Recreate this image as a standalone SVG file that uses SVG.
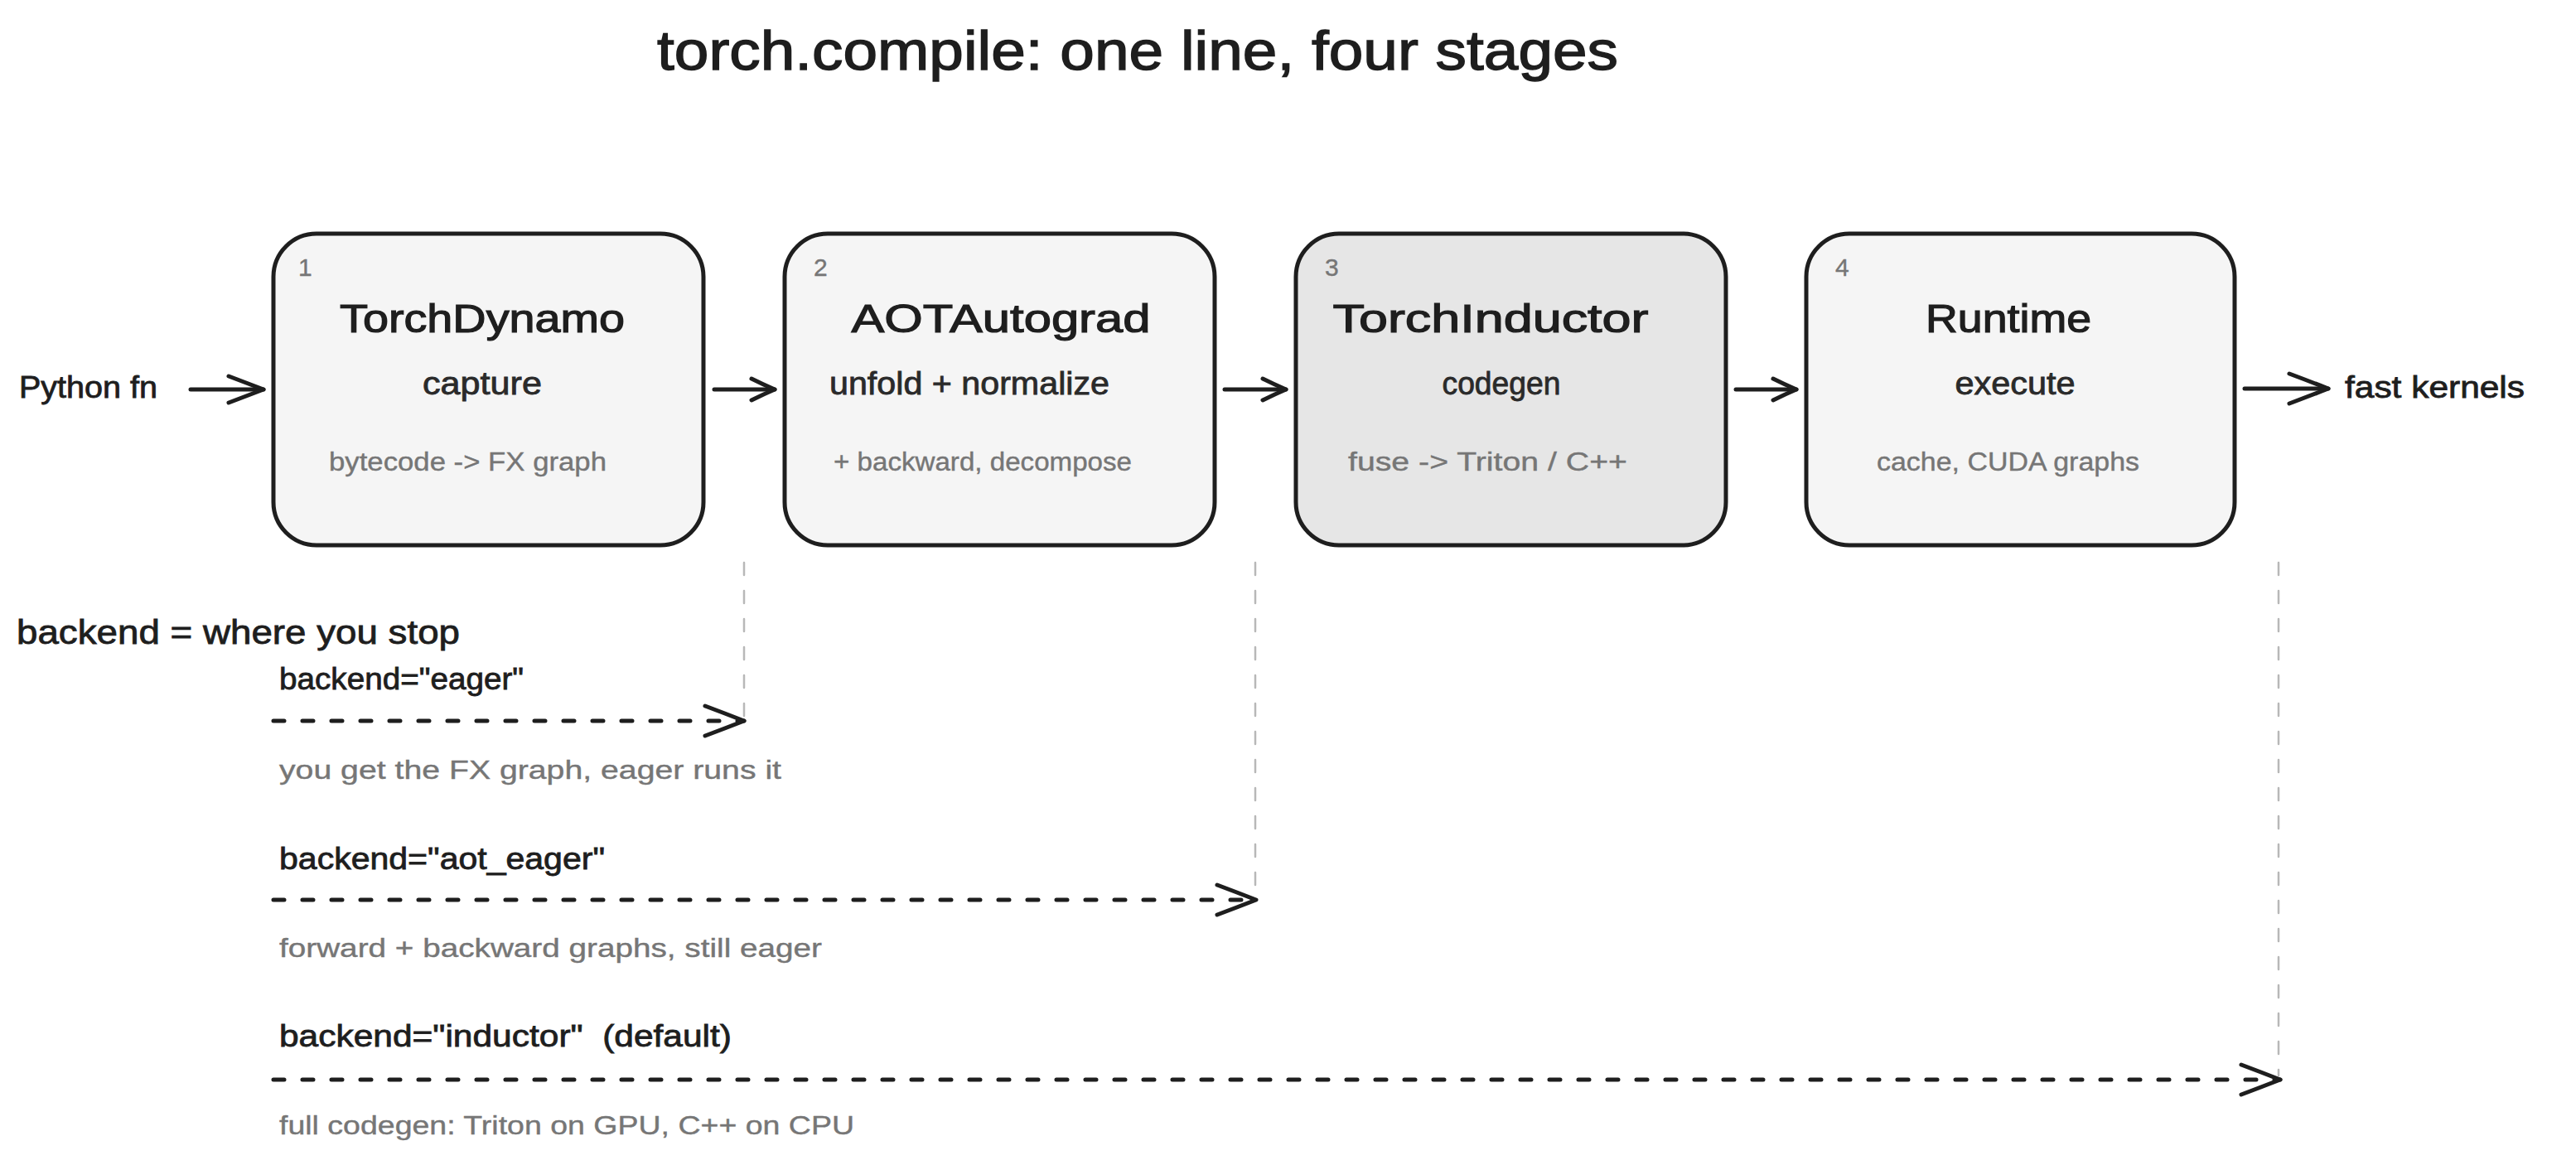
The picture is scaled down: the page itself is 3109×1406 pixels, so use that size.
<svg xmlns="http://www.w3.org/2000/svg" width="3109" height="1406" viewBox="0 0 3109 1406">
<style>
.bg{fill:#ffffff}
.box{fill:#f5f5f5;stroke:#1e1e1e;stroke-width:5}
.dark{fill:#e6e6e6}
.t{font-family:"Liberation Sans",Arial,sans-serif;fill:#1e1e1e;stroke:#1e1e1e;stroke-width:0.8}
.title{font-size:66px;stroke-width:1.4}
.h{font-size:48px;text-anchor:middle;stroke-width:1.2}
.sub{font-size:38px;text-anchor:middle;fill:#2a2a2a;stroke:#2a2a2a}
.det{font-size:31px;fill:#767676;stroke:#767676;stroke-width:0.4}
.num{font-size:30px;fill:#767676;stroke:#767676;stroke-width:0.4}
.lbl{font-size:36px}
.edge{stroke:#1e1e1e;stroke-width:5;fill:none;stroke-linecap:round}
.dash{stroke-dasharray:13 22}
.guide{stroke:#b8b8b8;stroke-width:2.5;stroke-dasharray:15 19;stroke-linecap:round;fill:none}
</style>
<defs>
<marker id="ah" markerUnits="userSpaceOnUse" viewBox="0 0 54 42" refX="50" refY="21" markerWidth="54" markerHeight="42" orient="auto" overflow="visible">
<path d="M3,3 Q27,12 50,21 Q27,30 3,39" fill="none" stroke="#1e1e1e" stroke-width="5" stroke-linecap="round" stroke-linejoin="round" stroke-dasharray="none"/>
</marker>
<marker id="ahm" markerUnits="userSpaceOnUse" viewBox="0 0 48 36" refX="45" refY="18" markerWidth="48" markerHeight="36" orient="auto" overflow="visible">
<path d="M3,2 Q24,10 45,18 Q24,26 3,34" fill="none" stroke="#1e1e1e" stroke-width="5" stroke-linecap="round" stroke-linejoin="round" stroke-dasharray="none"/>
</marker>
<marker id="ahs" markerUnits="userSpaceOnUse" viewBox="0 0 34 32" refX="31" refY="16" markerWidth="34" markerHeight="32" orient="auto" overflow="visible">
<path d="M3,3 Q17,10 31,16 Q17,22 3,29" fill="none" stroke="#1e1e1e" stroke-width="5" stroke-linecap="round" stroke-linejoin="round" stroke-dasharray="none"/>
</marker>
</defs>
<rect class="bg" x="0" y="0" width="3109" height="1406"/>

<text class="t title" x="793" y="84" textLength="1160" lengthAdjust="spacingAndGlyphs">torch.compile: one line, four stages</text>

<g id="node-dynamo">
<rect class="box" x="330" y="282" width="519" height="376" rx="52"/>
<text class="t num" x="360" y="333">1</text>
<text class="t h" x="582" y="401" textLength="344" lengthAdjust="spacingAndGlyphs">TorchDynamo</text>
<text class="t sub" x="582" y="476" textLength="144" lengthAdjust="spacingAndGlyphs">capture</text>
<text class="t det" x="397" y="568" textLength="335" lengthAdjust="spacingAndGlyphs">bytecode -&gt; FX graph</text>
</g>

<g id="node-aotautograd">
<rect class="box" x="947" y="282" width="519" height="376" rx="52"/>
<text class="t num" x="982" y="333">2</text>
<text class="t h" x="1208" y="401" textLength="361" lengthAdjust="spacingAndGlyphs">AOTAutograd</text>
<text class="t sub" x="1170" y="476" textLength="338" lengthAdjust="spacingAndGlyphs">unfold + normalize</text>
<text class="t det" x="1006" y="568" textLength="360" lengthAdjust="spacingAndGlyphs">+ backward, decompose</text>
</g>

<g id="node-inductor">
<rect class="box dark" x="1564" y="282" width="519" height="376" rx="52"/>
<text class="t num" x="1599" y="333">3</text>
<text class="t h" x="1799" y="401" textLength="381" lengthAdjust="spacingAndGlyphs">TorchInductor</text>
<text class="t sub" x="1812" y="476" textLength="143" lengthAdjust="spacingAndGlyphs">codegen</text>
<text class="t det" x="1627" y="568" textLength="337" lengthAdjust="spacingAndGlyphs">fuse -&gt; Triton / C++</text>
</g>

<g id="node-runtime">
<rect class="box" x="2180" y="282" width="517" height="376" rx="52"/>
<text class="t num" x="2215" y="333">4</text>
<text class="t h" x="2424" y="401" textLength="200" lengthAdjust="spacingAndGlyphs">Runtime</text>
<text class="t sub" x="2432" y="476" textLength="145" lengthAdjust="spacingAndGlyphs">execute</text>
<text class="t det" x="2265" y="568" textLength="317" lengthAdjust="spacingAndGlyphs">cache, CUDA graphs</text>
</g>

<g id="labels">
<text class="t lbl" x="23" y="480" textLength="167" lengthAdjust="spacingAndGlyphs">Python fn</text>
<text class="t lbl" x="2830" y="480" textLength="217" lengthAdjust="spacingAndGlyphs">fast kernels</text>
<text class="t" style="font-size:40px" x="20" y="777" textLength="535" lengthAdjust="spacingAndGlyphs">backend = where you stop</text>
<text class="t lbl" x="337" y="832" textLength="295" lengthAdjust="spacingAndGlyphs">backend="eager"</text>
<text class="t det" x="337" y="940" textLength="606" lengthAdjust="spacingAndGlyphs">you get the FX graph, eager runs it</text>
<text class="t lbl" x="337" y="1049" textLength="393" lengthAdjust="spacingAndGlyphs">backend="aot_eager"</text>
<text class="t det" x="337" y="1155" textLength="655" lengthAdjust="spacingAndGlyphs">forward + backward graphs, still eager</text>
<text class="t lbl" x="337" y="1263" textLength="546" lengthAdjust="spacingAndGlyphs" xml:space="preserve">backend="inductor"  (default)</text>
<text class="t det" x="337" y="1369" textLength="694" lengthAdjust="spacingAndGlyphs">full codegen: Triton on GPU, C++ on CPU</text>
</g>

<g id="connectors">
<line class="edge" x1="230" y1="470" x2="318" y2="470" marker-end="url(#ahm)"/>
<line class="edge" x1="862" y1="470" x2="935" y2="470" marker-end="url(#ahs)"/>
<line class="edge" x1="1478" y1="470" x2="1552" y2="470" marker-end="url(#ahs)"/>
<line class="edge" x1="2095" y1="470" x2="2168" y2="470" marker-end="url(#ahs)"/>
<line class="edge" x1="2709" y1="469" x2="2810" y2="469" marker-end="url(#ah)"/>

<line class="guide" x1="898" y1="679" x2="898" y2="866"/>
<line class="guide" x1="1515" y1="679" x2="1515" y2="1082"/>
<line class="guide" x1="2750" y1="679" x2="2750" y2="1298"/>

<line class="edge dash" x1="330" y1="870" x2="898" y2="870" marker-end="url(#ah)"/>
<line class="edge dash" x1="330" y1="1086" x2="1516" y2="1086" marker-end="url(#ah)"/>
<line class="edge dash" x1="330" y1="1303" x2="2752" y2="1303" marker-end="url(#ah)"/>
</g>
</svg>
